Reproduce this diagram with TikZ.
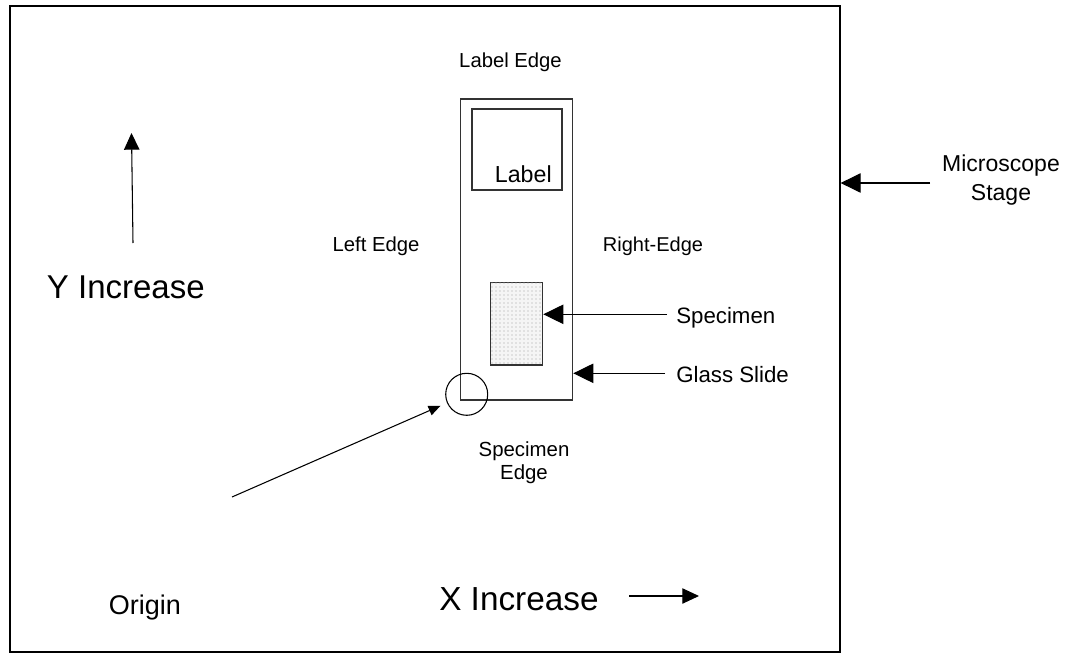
\documentclass[tikz,border=0pt]{standalone}
\usepackage{fontspec}
\setmainfont{Liberation Sans}
\usetikzlibrary{arrows.meta,patterns,fit}
\begin{document}
\begin{tikzpicture}[x=0.75pt,y=-0.75pt,
  box/.style={draw, inner sep=0pt, line width=0.9pt},
  lbl/.style={inner sep=0pt, anchor=base},
  ptrbig/.style={line width=0.8pt, -{Triangle[length=15pt,width=14.5pt]}},
  ptrmid/.style={line width=0.8pt, -{Triangle[length=12.5pt,width=11.5pt]}},
  ptrsmall/.style={line width=0.8pt, -{Triangle[length=9pt,width=7.5pt]}}]
\useasboundingbox (0,0) rectangle (1069,659);
% microscope stage
\coordinate (s1) at (10,6); \coordinate (s2) at (840,652);
\node[box, fit=(s1)(s2)] (stage) {};
% glass slide
\coordinate (g1) at (460.7,99); \coordinate (g2) at (572.7,400);
\node[box, draw=black!80, fit=(g1)(g2)] (slide) {};
% label box
\coordinate (l1) at (472,109); \coordinate (l2) at (562,190);
\node[box, draw=black!80, fit=(l1)(l2)] (labelbox) {};
\node[lbl, font=\fontsize{17.4}{20}\selectfont] (labeltext) at (523.3,182.7) {Label};
% specimen
\coordinate (p1) at (490.7,282.7); \coordinate (p2) at (542.7,365);
\node[box, draw=black!80, fill=gray!8, postaction={pattern=dots, pattern color=gray!75}, fit=(p1)(p2)] (specimen) {};
% origin circle
\node[draw, circle, line width=0.8pt, minimum size=31.5pt, inner sep=0pt] (origin) at (466.7,394.3) {};
% edge labels
\node[lbl, font=\fontsize{15.2}{18}\selectfont] (labeledge) at (510.5,67.7) {Label Edge};
\node[lbl, font=\fontsize{15.2}{18}\selectfont] (leftedge) at (376,251.7) {Left Edge};
\node[lbl, font=\fontsize{15}{18}\selectfont] (rightedge) at (653,251.7) {Right-Edge};
\node[inner sep=0pt, align=center, font=\fontsize{15.3}{17}\selectfont] (specedge) at (524,463) {Specimen\\Edge};
% pointer labels
\node[lbl, anchor=base west, font=\fontsize{16.7}{20}\selectfont] (spectext) at (676,323) {Specimen};
\node[lbl, anchor=base west, font=\fontsize{16.7}{20}\selectfont] (glasstext) at (676,382.3) {Glass Slide};
\node[inner sep=0pt, align=center, font=\fontsize{17.25}{21.2}\selectfont] (stagetext) at (1001,180) {Microscope\\Stage};
% axis labels
\node[lbl, anchor=base west, font=\fontsize{24.75}{28}\selectfont] (ytext) at (46.7,298.3) {Y Increase};
\node[lbl, anchor=base west, font=\fontsize{25}{28}\selectfont] (xtext) at (439,610) {X Increase};
\node[lbl, font=\fontsize{20.25}{24}\selectfont] (origintext) at (145,614) {Origin};
% arrows
\coordinate (msT) at (930,183);
\draw[ptrbig] (msT) -- (msT -| stage.east);
\coordinate (spT) at (667,314.3);
\draw[ptrbig] (spT) -- (spT -| specimen.east);
\coordinate (glT) at (665,373.3);
\draw[ptrbig] (glT) -- (glT -| slide.east);
\coordinate (oT) at (232,497);
\draw[ptrsmall, shorten >=5.25pt] (oT) -- (origin);
\coordinate (yT) at (133,243); \coordinate (yH) at (131.5,133);
\draw[ptrmid] (yT) -- (yH);
\coordinate (xT) at (629,596); \coordinate (xH) at (699,596);
\draw[ptrmid] (xT) -- (xH);
\end{tikzpicture}
\end{document}
